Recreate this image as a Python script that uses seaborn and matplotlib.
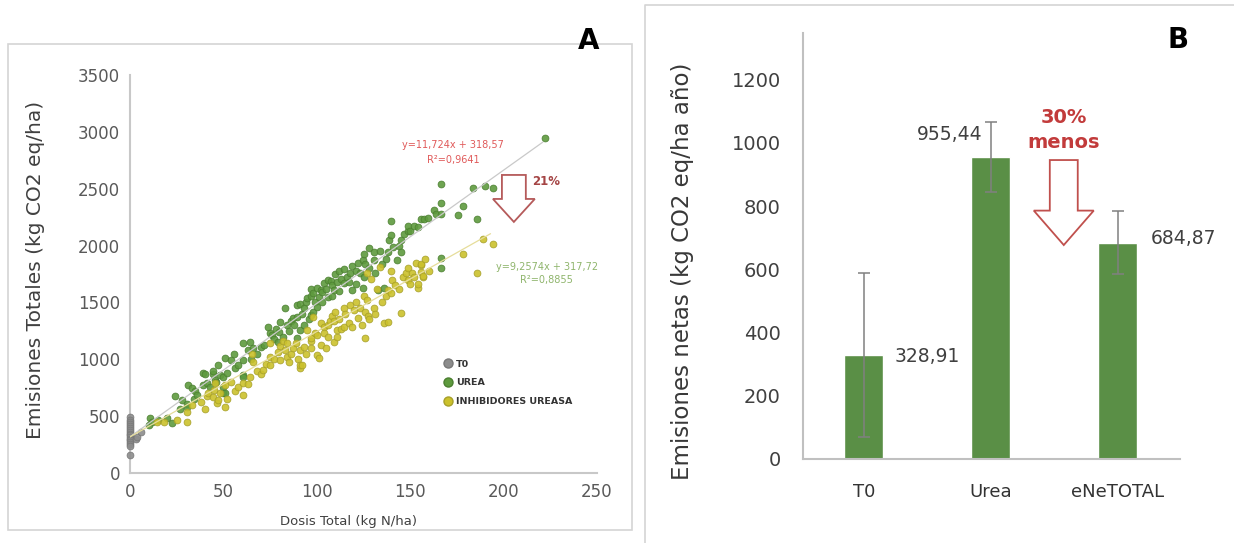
import matplotlib
matplotlib.use("Agg")
import matplotlib.pyplot as plt
from matplotlib.patches import Polygon, Rectangle
from matplotlib.lines import Line2D
import pandas as pd
import seaborn as sns

# ---------------- Panel A data (dose kg N/ha, emissions kg CO2 eq/ha) ----------------
group_labels = ["T0", "UREA", "INHIBIDORES UREASA"]

t0_points = [(0, 490), (0, 468), (0, 447), (0, 428), (0, 410), (0, 393), (0, 377), (0, 362),
             (0, 347), (0, 332), (0, 318), (0, 303), (0, 288), (0, 272), (0, 255), (0, 238),
             (0, 160), (3, 300), (4, 318), (6, 360)]

urea_points = [
    (10, 420), (10.7, 482), (12, 450), (15, 470), (20, 480), (22.5, 440), (24, 675), (27, 560),
    (28, 640), (30.6, 610), (30.6, 580), (31, 770), (33, 745), (34, 650), (35, 720), (36, 685),
    (39, 770), (39, 877), (40, 875), (41, 790), (43, 760), (44.6, 875), (44.6, 900), (45.6, 815),
    (46, 800), (47, 950), (48, 860), (50, 845), (50, 755), (50, 700), (51, 700), (51, 1010),
    (52, 880), (54, 990), (55.5, 1050), (56, 920), (58, 950), (60.7, 860), (60.7, 842), (60.7, 990),
    (60.7, 1140), (63, 1080), (64.5, 1150), (65, 1000), (66, 1095), (68, 1050), (70, 1105),
    (72, 1130), (74, 1280), (75, 1230), (76, 1210), (77, 1180), (78, 1270), (79, 1150), (80, 1240),
    (80.5, 1325), (82, 1200), (83, 1450), (84, 1300), (85, 1250), (86, 1340), (87, 1360),
    (88, 1300), (89.5, 1190), (89.5, 1370), (89.5, 1475), (91, 1255), (91, 1490), (92, 1400),
    (93, 1300), (93, 1455), (94, 1500), (95, 1535), (96, 1350), (96.7, 1620), (97, 1390),
    (97, 1560), (98, 1420), (98, 1580), (99, 1500), (100, 1460), (100, 1630), (101, 1550),
    (102, 1605), (103, 1500), (103, 1590), (104, 1675), (105, 1620), (105.8, 1545), (106, 1700),
    (107.4, 1690), (108, 1560), (108, 1650), (109, 1605), (110, 1750), (111, 1680), (112, 1600),
    (112, 1780), (113, 1710), (114.5, 1675), (114.5, 1795), (116, 1720), (117, 1680), (118, 1760),
    (119, 1605), (119, 1820), (121, 1665), (121, 1780), (122, 1850), (123, 1760), (124.6, 1630),
    (124.6, 1870), (125, 1720), (125, 1930), (126, 1840), (128, 1800), (128, 1980), (130.5, 1870),
    (130.5, 1940), (131, 1760), (132.6, 1605), (134, 1955), (135, 1840), (136, 1630), (137, 1880),
    (138, 1940), (138.7, 2045), (139.6, 2090), (139.6, 2220), (141, 1990), (143, 1870), (144, 2000),
    (145, 1940), (145, 2045), (146.6, 2105), (148.7, 2130), (149, 2175), (150, 2130), (152, 2175),
    (154, 2160), (156, 2235), (157.5, 2235), (159.5, 2245), (163, 2310), (163.8, 2280),
    (166.5, 1800), (166.5, 1895), (166.5, 2280), (166.5, 2370), (166.5, 2545), (175.6, 2265),
    (178, 2350), (183.6, 2510), (186, 2235), (190, 2525), (194.4, 2510), (222, 2950)]

inhib_points = [
    (14.5, 447), (18, 447), (25, 470), (30.6, 447), (30.6, 535), (33, 600), (38, 620), (40, 560),
    (41, 675), (42, 700), (44.6, 667), (45, 730), (45.6, 790), (46.7, 614), (47, 640), (48, 700),
    (51, 580), (51, 770), (52, 650), (54, 800), (56, 720), (58, 760), (60.7, 685), (60.7, 790),
    (63, 780), (64, 840), (65.5, 1050), (66, 980), (68, 900), (70, 870), (71, 905), (73, 960),
    (75, 950), (75, 1020), (75, 1140), (77, 1000), (79, 1060), (80.5, 990), (80.5, 1120),
    (82, 1165), (83, 1080), (84, 1020), (84, 1140), (85, 975), (86, 1050), (87, 1100),
    (88.6, 1140), (90, 1000), (91, 920), (91, 950), (91, 1080), (92, 950), (93, 1105), (94, 1050),
    (95, 1255), (96.7, 1165), (97, 1100), (97, 1190), (98, 1370), (99, 1230), (100, 1040),
    (100, 1210), (101, 1010), (102, 1130), (102, 1315), (103.6, 1280), (104, 1230), (105, 1100),
    (105.8, 1195), (106, 1300), (107, 1340), (108, 1380), (109, 1150), (109, 1340), (110, 1420),
    (111, 1200), (111, 1255), (112, 1350), (113, 1270), (114.5, 1280), (114.5, 1455), (115, 1400),
    (117, 1320), (118, 1480), (119, 1280), (120, 1430), (121, 1500), (122, 1360), (123, 1450),
    (124, 1300), (125, 1560), (126, 1185), (126, 1420), (127, 1520), (127, 1755), (127.6, 1385),
    (128, 1350), (129, 1710), (130.5, 1450), (131, 1400), (132, 1620), (134, 1810), (135, 1500),
    (136, 1315), (137, 1560), (138, 1325), (138, 1605), (139.6, 1580), (139.6, 1780), (140, 1700),
    (142, 1650), (144, 1620), (145, 1410), (146, 1720), (147.7, 1755), (148.7, 1695), (149, 1800),
    (150, 1665), (151, 1760), (152, 1720), (153, 1850), (154, 1630), (154, 1665), (156, 1765),
    (156, 1825), (156, 1840), (156.8, 1720), (157, 1735), (158, 1880), (160, 1780), (178, 1930),
    (186, 1755), (189, 2060), (194.4, 2015)]

# trend lines as printed on the chart (slope, intercept) and their x extent
urea_fit = (11.724, 318.57)
inhib_fit = (9.2574, 317.72)
urea_fit_range = [0, 221]
inhib_fit_range = [0, 193]

# ---------------- Panel B data ----------------
treatments = ["T0", "Urea", "eNeTOTAL"]
net_emissions = [328.91, 955.44, 684.87]
net_error = [260, 110, 100]
bar_labels = ["328,91", "955,44", "684,87"]

# ---------------- styling ----------------
sns.set_theme(style="white")
plt.rcParams["font.family"] = ["DejaVu Sans"]

W, H = 1234, 543
fig = plt.figure(figsize=(W / 100, H / 100), dpi=100)

def fx(px):
    return px / W

def fy(py):
    return 1 - py / H

# panel frames
fig.add_artist(Rectangle((fx(8), fy(530)), fx(624), 486 / H, transform=fig.transFigure,
                         fill=False, ec="#d4d4d4", lw=1.2))
fig.add_artist(Line2D([fx(645), fx(645), fx(1240)], [fy(560), fy(5), fy(5)],
                      transform=fig.transFigure, color="#d4d4d4", lw=1.2))

# ================= Panel A =================
axA = fig.add_axes([fx(130), fy(473), 467 / W, 398 / H])

colors = {"T0": ("#8c8c8c", "#777777"),
          "UREA": ("#5e9a3e", "#4b7f30"),
          "INHIBIDORES UREASA": ("#cbc12c", "#a7a02a")}

frames = []
for name, pts in [("UREA", urea_points), ("INHIBIDORES UREASA", inhib_points), ("T0", t0_points)]:
    d = pd.DataFrame(pts, columns=["dose", "emis"])
    d["group"] = name
    frames.append(d)
df_a = pd.concat(frames, ignore_index=True)

for name in ["UREA", "INHIBIDORES UREASA", "T0"]:
    sub = df_a[df_a["group"] == name]
    fc, ec = colors[name]
    sns.scatterplot(data=sub, x="dose", y="emis", ax=axA, color=fc, edgecolor=ec,
                    linewidth=0.6, s=24, alpha=0.9, legend=False, clip_on=False, zorder=3)

ux = urea_fit_range
axA.plot(ux, [urea_fit[0] * v + urea_fit[1] for v in ux], color="#c9c9c9", lw=0.9, zorder=4)
ix = inhib_fit_range
axA.plot(ix, [inhib_fit[0] * v + inhib_fit[1] for v in ix], color="#e6dd9a", lw=0.9, zorder=4)

axA.set_xlim(0, 250)
axA.set_ylim(0, 3500)
axA.set_xticks(range(0, 251, 50))
axA.set_yticks(range(0, 3501, 500))
for s in ["top", "right"]:
    axA.spines[s].set_visible(False)
for s in ["left", "bottom"]:
    axA.spines[s].set_color("#c8c8c8")
    axA.spines[s].set_linewidth(1.5)
axA.tick_params(length=0, labelsize=12, labelcolor="#595959", pad=7)
axA.set_ylabel("Emisiones Totales (kg CO2 eq/ha)", fontsize=14.5, color="#404040")
axA.yaxis.set_label_coords((45 - 130) / 467, 0.51)
axA.set_xlabel("Dosis Total (kg N/ha)", fontsize=9.5, color="#404040")
axA.xaxis.set_label_coords((349 - 130) / 467, -0.106)

handles = [Line2D([], [], marker="o", ls="", markersize=6.5, mfc=colors[g][0],
                  mec=colors[g][1]) for g in group_labels]
leg = axA.legend(handles, group_labels, loc="upper left", bbox_to_anchor=(0.672, 0.285),
                 frameon=False, fontsize=6.8, handlelength=0.8, handletextpad=0.5,
                 labelspacing=1.05, borderpad=0, borderaxespad=0)
for t in leg.get_texts():
    t.set_color("#333333")
    t.set_fontweight("bold")

axA.text(173, 2885, "y=11,724x + 318,57", fontsize=7, color="#e05a5a", ha="center", va="center")
axA.text(173, 2753, "R²=0,9641", fontsize=7, color="#e05a5a", ha="center", va="center")
axA.text(223, 1812, "y=9,2574x + 317,72", fontsize=7, color="#8fb56c", ha="center", va="center")
axA.text(223, 1697, "R²=0,8855", fontsize=7, color="#8fb56c", ha="center", va="center")

cx, top, hs, tip, sw, hw = 205.5, 2621, 2410, 2208, 6.4, 11.2
axA.add_patch(Polygon([(cx - sw, top), (cx + sw, top), (cx + sw, hs), (cx + hw, hs), (cx, tip),
                       (cx - hw, hs), (cx - sw, hs)], closed=True, fc="white",
                      ec="#b55a5a", lw=1.3, zorder=5, clip_on=False))
axA.text(215.5, 2560, "21%", fontsize=8.5, fontweight="bold", color="#a54545",
         ha="left", va="center")

fig.text(fx(589), fy(41), "A", fontsize=20, fontweight="bold", color="black",
         ha="center", va="center")

# ================= Panel B =================
axB = fig.add_axes([fx(803), fy(459), 377 / W, 426 / H])
df_b = pd.DataFrame({"trat": treatments, "emis": net_emissions})
sns.barplot(data=df_b, x="trat", y="emis", ax=axB, color="#5a8f46", width=0.305,
            errorbar=None, saturation=1, zorder=2)
axB.errorbar(x=list(range(len(treatments))), y=net_emissions, yerr=net_error, fmt="none",
             ecolor="#808080", elinewidth=1.1, capsize=4, capthick=1.1, zorder=3)

axB.set_xlim(-0.478, 2.49)
axB.set_ylim(0, 1348)
axB.set_yticks(range(0, 1201, 200))
for s in ["top", "right"]:
    axB.spines[s].set_visible(False)
for s in ["left", "bottom"]:
    axB.spines[s].set_color("#c0c0c0")
    axB.spines[s].set_linewidth(1.5)
axB.tick_params(axis="y", length=0, labelsize=14, labelcolor="#404040", pad=16)
axB.tick_params(axis="x", length=0, labelsize=13, labelcolor="#333333", pad=17)
axB.set_xlabel("")
axB.set_ylabel("Emisiones netas (kg CO2 eq/ha año)", fontsize=16.5, color="#383838")
axB.yaxis.set_label_coords((694 - 803) / 377, 0.441)

offsets = [((22, -1), "left"), ((-6, 16), "right"), ((24, 3), "left")]
for i, (val, lab) in enumerate(zip(net_emissions, bar_labels)):
    (dx, dy), ha = offsets[i]
    axB.annotate(lab, xy=(i, val), xytext=(dx, dy), textcoords="offset points",
                 fontsize=13.5, color="#404040", ha=ha, va="center")

axB.text(1.575, 1082, "30%", fontsize=14, fontweight="bold", color="#c23b3b",
         ha="center", va="center")
axB.text(1.575, 1003, "menos", fontsize=14, fontweight="bold", color="#c23b3b",
         ha="center", va="center")
bx, btop, bhs, btip, bsw, bhw = 1.575, 946, 786, 677, 0.110, 0.236
axB.add_patch(Polygon([(bx - bsw, btop), (bx + bsw, btop), (bx + bsw, bhs), (bx + bhw, bhs),
                       (bx, btip), (bx - bhw, bhs), (bx - bsw, bhs)], closed=True,
                      fc="white", ec="#c0504d", lw=1.3, zorder=5))

fig.text(fx(1178), fy(40), "B", fontsize=20, fontweight="bold", color="black",
         ha="center", va="center")

fig.savefig("out.png", dpi=100)
